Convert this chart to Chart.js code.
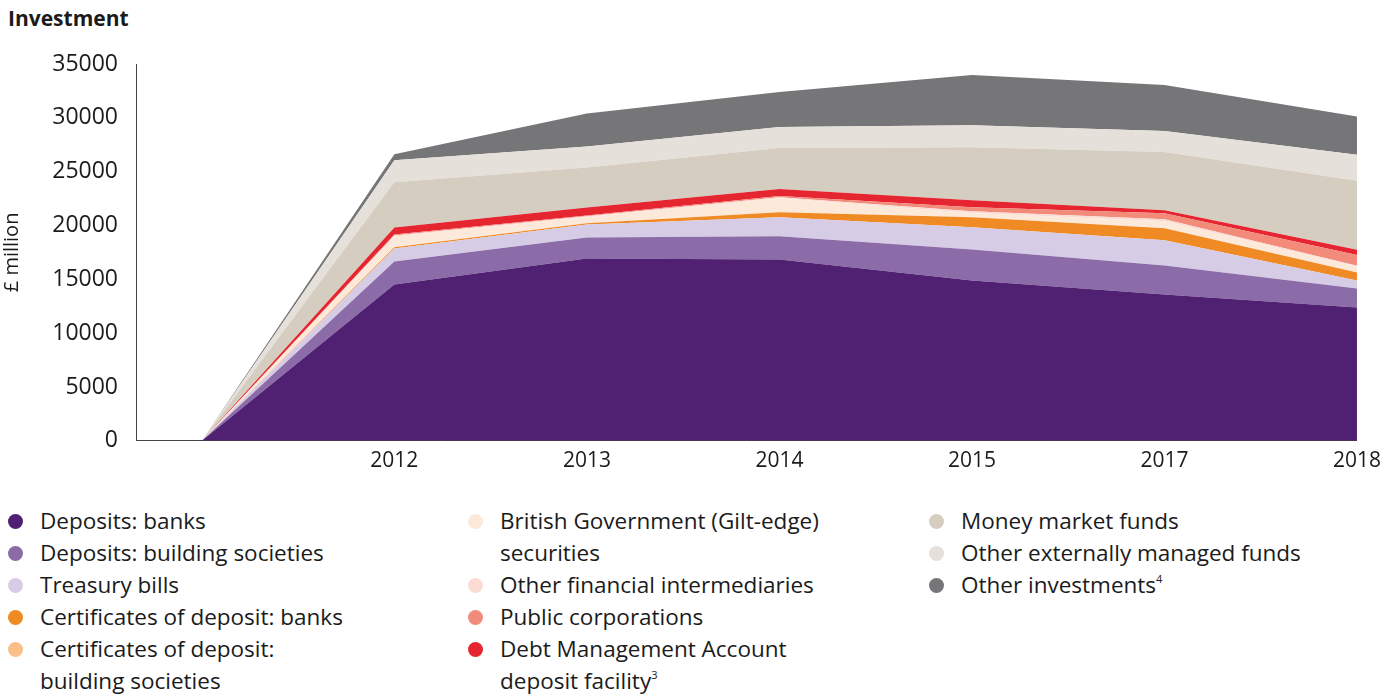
<!DOCTYPE html>
<html>
<head>
<meta charset="utf-8">
<script src="https://cdn.jsdelivr.net/npm/chart.js@4.4.1/dist/chart.umd.min.js"></script>
<style>
  body { margin: 0; background: #fff; font-family: "Open Sans", sans-serif; color: #1b1b1b; }
  #title { position: absolute; left: 8px; top: 4px; font-size: 21px; font-weight: bold; }
  #wrap { position: absolute; left: 0; top: 0; width: 1389px; height: 488px; }
  .legend { position: absolute; top: 505px; font-size: 22.5px; line-height: 32px; }
  .legend div { position: relative; padding-left: 32px; }
  .legend span.dot { position: absolute; left: 0; top: 9px; width: 15px; height: 15px; border-radius: 50%; }
  sup { font-size: 11px; line-height: 0; vertical-align: 10px; }
</style>
</head>
<body>
<div id="title">Investment</div>
<div id="wrap"><canvas id="invChart"></canvas></div>
<div class="legend" id="leg1" style="left:8px"></div>
<div class="legend" id="leg2" style="left:468px"></div>
<div class="legend" id="leg3" style="left:929px"></div>
<script>
// categorias do eixo x (o primeiro ponto é o zero inicial)
const years = ['', '2012', '2013', '2014', '2015', '2017', '2018'];

// valores em £ milhão, de baixo para cima
const depositsBanks = [0, 14520, 16940, 16850, 14890, 13590, 12380];
const depositsBuildingSoc = [0, 2140, 1950, 2140, 2890, 2700, 1770];
const treasuryBills = [0, 1210, 1210, 1770, 2050, 2330, 740];
const cdBanks = [0, 100, 100, 470, 930, 1120, 740];
const cdBuildingSoc = [0, 0, 0, 0, 0, 0, 0];
const giltSecurities = [0, 1000, 560, 1300, 400, 650, 560];
const otherFinancial = [0, 100, 100, 100, 160, 200, 60];
const publicCorps = [0, 100, 60, 100, 370, 550, 1020];
const debtMgmt = [0, 650, 740, 650, 650, 280, 470];
const moneyMarket = [0, 4190, 3720, 3820, 4930, 5400, 6420];
const otherExternal = [0, 2050, 1950, 1950, 2050, 1950, 2420];
const otherInvestments = [0, 560, 3070, 3260, 4650, 4280, 3540];

const yTicks = [0, 5000, 10000, 15000, 20000, 25000, 30000, 35000];

const series = [
    { label: 'Deposits: banks', data: depositsBanks, color: '#502072', col: 1 },
    { label: 'Deposits: building societies', data: depositsBuildingSoc, color: '#8b6ba8', col: 1 },
    { label: 'Treasury bills', data: treasuryBills, color: '#d6cce5', col: 1 },
    { label: 'Certificates of deposit: banks', data: cdBanks, color: '#f08a24', col: 1 },
    { label: 'Certificates of deposit:<br>building societies', data: cdBuildingSoc, color: '#f8bf88', col: 1 },
    { label: 'British Government (Gilt-edge)<br>securities', data: giltSecurities, color: '#fde9d9', col: 2 },
    { label: 'Other financial intermediaries', data: otherFinancial, color: '#fbdcd5', col: 2 },
    { label: 'Public corporations', data: publicCorps, color: '#f28b7a', col: 2 },
    { label: 'Debt Management Account<br>deposit facility<sup>3</sup>', data: debtMgmt, color: '#e52631', col: 2 },
    { label: 'Money market funds', data: moneyMarket, color: '#d6cdc1', col: 3 },
    { label: 'Other externally managed funds', data: otherExternal, color: '#e5e0d9', col: 3 },
    { label: 'Other investments<sup>4</sup>', data: otherInvestments, color: '#767577', col: 3 }
];

const datasets = series.map((s, i) => ({
    label: s.label.replace(/<[^>]+>/g, ' '),
    data: s.data.map((v, j) => ({ x: j, y: v })),
    backgroundColor: s.color,
    borderWidth: 0,
    pointRadius: 0,
    fill: i === 0 ? 'origin' : '-1'
}));

const ctx = document.getElementById('invChart').getContext('2d');
const invChart = new Chart(ctx, {
    type: 'line',
    data: { datasets: datasets },
    options: {
        responsive: true,
        maintainAspectRatio: false,
        animation: false,
        layout: { padding: { top: 64, right: 27, bottom: 6, left: 0 } },
        plugins: {
            legend: { display: false },
            tooltip: { enabled: false }
        },
        scales: {
            x: {
                type: 'linear',
                min: -0.342,
                max: years.length - 1,
                afterBuildTicks: (scale) => { scale.ticks = years.map((_, i) => ({ value: i })); },
                grid: { display: false, drawTicks: false },
                border: { display: true, color: '#444' },
                ticks: {
                    autoSkip: false,
                    maxRotation: 0,
                    padding: 8,
                    color: '#1b1b1b',
                    font: { family: 'Open Sans', size: 21 },
                    callback: (v) => years[v] || ''
                }
            },
            y: {
                stacked: true,
                min: 0,
                max: 35000,
                afterBuildTicks: (scale) => { scale.ticks = yTicks.map(v => ({ value: v })); },
                afterFit: (scale) => { scale.width = 136; },
                grid: { display: false, drawTicks: false },
                border: { display: true, color: '#444' },
                title: {
                    display: true,
                    text: '£ million',
                    color: '#1b1b1b',
                    font: { family: 'Open Sans', size: 20 },
                    padding: { top: 0, bottom: 0 }
                },
                ticks: {
                    padding: 18,
                    color: '#1b1b1b',
                    font: { family: 'Open Sans', size: 23 },
                    callback: (v) => String(v)
                }
            }
        }
    }
});

// legenda em três colunas
series.forEach(s => {
    const item = document.createElement('div');
    item.innerHTML = '<span class="dot" style="background:' + s.color + '"></span>' + s.label;
    document.getElementById('leg' + s.col).appendChild(item);
});
</script>
</body>
</html>
